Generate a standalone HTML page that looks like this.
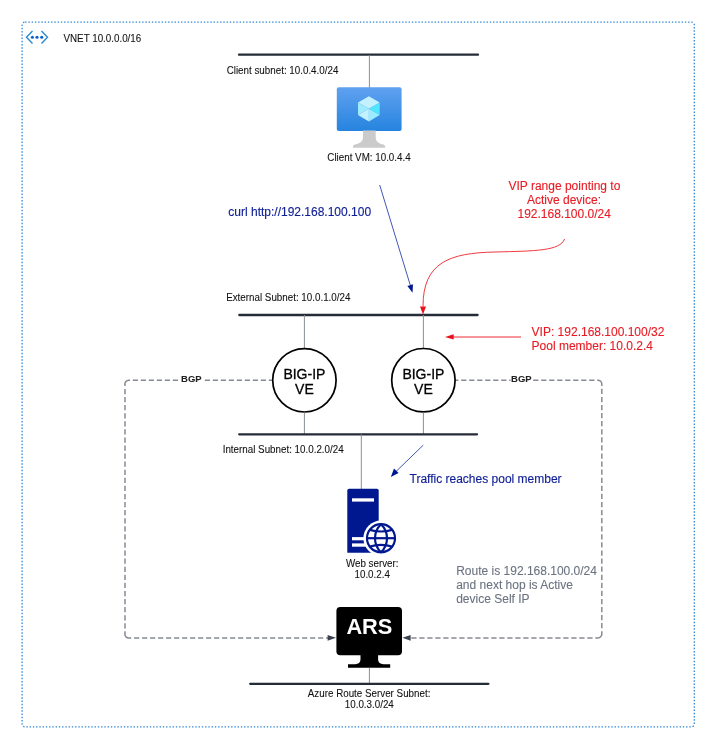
<!DOCTYPE html>
<html><head><meta charset="utf-8">
<style>
html,body{margin:0;padding:0;background:#fff;width:717px;height:750px;overflow:hidden}
svg{display:block;will-change:transform}
text{font-family:"Liberation Sans",sans-serif}
</style></head><body>
<svg width="717" height="750" viewBox="0 0 717 750">
<defs>
<linearGradient id="vmg" x1="0" y1="0" x2="0" y2="1">
<stop offset="0" stop-color="#60a1f0"/><stop offset="1" stop-color="#2684df"/>
</linearGradient>
</defs>
<rect x="0" y="0" width="717" height="750" fill="#fff"/>

<!-- VNET border -->
<rect x="22.1" y="22.1" width="672.2" height="704.8" rx="3" fill="none" stroke="#2f86d8" stroke-width="1.3" stroke-dasharray="1.4 1.85"/>
<!-- VNET icon -->
<g fill="none" stroke="#2a8ccf" stroke-width="1.4">
<path d="M32.5 31 L26.5 37.3 L32.5 43.6"/>
<path d="M41.5 31 L47.5 37.3 L41.5 43.6"/>
</g>
<g fill="#0a60c9">
<circle cx="32.4" cy="37.3" r="1.55"/><circle cx="37" cy="37.3" r="1.55"/><circle cx="41.7" cy="37.3" r="1.55"/>
</g>
<text x="63.5" y="41.8" font-size="10" fill="#111" stroke="#111" stroke-width="0.08" textLength="77.73" lengthAdjust="spacingAndGlyphs">VNET 10.0.0.0/16</text>

<!-- Client subnet -->
<line x1="239" y1="54.7" x2="478" y2="54.7" stroke="#262c37" stroke-width="2.3" stroke-linecap="round"/>
<text x="226.7" y="73.8" font-size="10" fill="#111" stroke="#111" stroke-width="0.08" textLength="111.69" lengthAdjust="spacingAndGlyphs">Client subnet: 10.0.4.0/24</text>
<line x1="369.4" y1="55" x2="369.4" y2="88" stroke="#8a8f96" stroke-width="1"/>

<!-- VM icon -->
<rect x="336.8" y="87.3" width="64.8" height="43.6" rx="2" fill="url(#vmg)"/>
<path d="M363 130.6 H375.7 V137.3 C375.7 142 379 143.6 383.6 144.6 Q385.3 145.1 385.3 147.7 H352.8 Q352.8 145.1 354.6 144.6 C359.2 143.6 363 142 363 137.3 Z" fill="#cbcbcb"/>
<polygon points="368.9,96.3 379.7,102.4 368.9,108.8 358,102.4" fill="#c3f1ff"/>
<polygon points="358,102.4 368.9,108.8 358,115.1" fill="#9cebff"/>
<polygon points="358,115.1 368.9,108.8 368.9,121.6" fill="#c3f1ff"/>
<polygon points="379.7,102.4 368.9,108.8 379.7,115.1" fill="#50e6ff"/>
<polygon points="379.7,115.1 368.9,108.8 368.9,121.6" fill="#9cebff"/>
<text x="369" y="160.7" font-size="10" fill="#111" stroke="#111" stroke-width="0.08" text-anchor="middle" textLength="83.34" lengthAdjust="spacingAndGlyphs">Client VM: 10.0.4.4</text>

<!-- curl text + arrow -->
<text x="228.3" y="216" font-size="12" fill="#0f1f96" stroke="#0f1f96" stroke-width="0.15">curl http://192.168.100.100</text>
<line x1="379.7" y1="185" x2="410.3" y2="285.3" stroke="#4257b5" stroke-width="1"/>
<polygon points="412.5,292.8 407.4,286 413,284.3" fill="#00188f"/>

<!-- VIP range text -->
<g font-size="12" fill="#e81c24" stroke="#e81c24" stroke-width="0.12" text-anchor="middle">
<text x="564.4" y="189.5">VIP range pointing to</text>
<text x="564" y="203.7">Active device:</text>
<text x="564.2" y="218">192.168.100.0/24</text>
</g>
<path d="M564.6 239 C560 251 535 251 495 252 C450 253 423 262 423 306.4" fill="none" stroke="#ee3a40" stroke-width="1"/>
<polygon points="420,306.4 426,306.4 423,314.4" fill="#e8101a"/>

<!-- External subnet -->
<text x="226.2" y="301.3" font-size="10" fill="#111" stroke="#111" stroke-width="0.08" textLength="124.22" lengthAdjust="spacingAndGlyphs">External Subnet: 10.0.1.0/24</text>
<line x1="239.3" y1="315" x2="477.6" y2="315" stroke="#262c37" stroke-width="2.3" stroke-linecap="round"/>
<line x1="304.4" y1="315" x2="304.4" y2="348" stroke="#8a8f96" stroke-width="1"/>
<line x1="423.4" y1="315" x2="423.4" y2="348" stroke="#8a8f96" stroke-width="1"/>

<!-- VIP arrow + text -->
<line x1="453" y1="337" x2="521" y2="337" stroke="#ee2a32" stroke-width="1"/>
<polygon points="445,336.9 453.7,334.2 453.7,339.6" fill="#e8101a"/>
<g font-size="12" fill="#e81c24" stroke="#e81c24" stroke-width="0.12">
<text x="531.6" y="335.6">VIP: 192.168.100.100/32</text>
<text x="531.6" y="350.1">Pool member: 10.0.2.4</text>
</g>

<!-- BGP dashed paths -->
<path fill="none" stroke="#868b93" stroke-width="1.5" d="M129.00 380.20H130.05M132.80 380.20H138.05M140.80 380.20H146.05M148.80 380.20H154.05M156.80 380.20H162.05M164.80 380.20H170.05M172.80 380.20H178.05M180.80 380.20H186.05M188.80 380.20H194.05M196.80 380.20H202.05M204.80 380.20H210.05M212.80 380.20H218.05M220.80 380.20H226.05M228.80 380.20H234.05M236.80 380.20H242.05M244.80 380.20H250.05M252.80 380.20H258.05M260.80 380.20H266.05M268.80 380.20H272.00M125.00 384.20V386.07M125.00 388.90V394.15M125.00 396.98V402.23M125.00 405.06V410.31M125.00 413.14V418.39M125.00 421.22V426.47M125.00 429.30V434.55M125.00 437.38V442.63M125.00 445.46V450.71M125.00 453.54V458.79M125.00 461.62V466.87M125.00 469.70V474.95M125.00 477.78V483.03M125.00 485.86V491.11M125.00 493.94V499.19M125.00 502.02V507.27M125.00 510.10V515.35M125.00 518.18V523.43M125.00 526.26V531.51M125.00 534.34V539.59M125.00 542.42V547.67M125.00 550.50V555.75M125.00 558.58V563.83M125.00 566.66V571.91M125.00 574.74V579.99M125.00 582.82V588.07M125.00 590.90V596.15M125.00 598.98V604.23M125.00 607.06V612.31M125.00 615.14V620.39M125.00 623.22V628.47M125.00 631.30V633.90M129.00 637.90H131.25M134.00 637.90H139.25M142.00 637.90H147.25M150.00 637.90H155.25M158.00 637.90H163.25M166.00 637.90H171.25M174.00 637.90H179.25M182.00 637.90H187.25M190.00 637.90H195.25M198.00 637.90H203.25M206.00 637.90H211.25M214.00 637.90H219.25M222.00 637.90H227.25M230.00 637.90H235.25M238.00 637.90H243.25M246.00 637.90H251.25M254.00 637.90H259.25M262.00 637.90H267.25M270.00 637.90H275.25M278.00 637.90H283.25M286.00 637.90H291.25M294.00 637.90H299.25M302.00 637.90H307.25M310.00 637.90H315.25M318.00 637.90H323.25M326.00 637.90H330.00M455.00 380.20H458.45M461.20 380.20H466.45M469.20 380.20H474.45M477.20 380.20H482.45M485.20 380.20H490.45M493.20 380.20H498.45M501.20 380.20H506.45M509.20 380.20H514.45M517.20 380.20H522.45M525.20 380.20H530.45M533.20 380.20H538.45M541.20 380.20H546.45M549.20 380.20H554.45M557.20 380.20H562.45M565.20 380.20H570.45M573.20 380.20H578.45M581.20 380.20H586.45M589.20 380.20H594.45M597.20 380.20H597.80M601.80 384.20V385.97M601.80 388.80V394.05M601.80 396.88V402.13M601.80 404.96V410.21M601.80 413.04V418.29M601.80 421.12V426.37M601.80 429.20V434.45M601.80 437.28V442.53M601.80 445.36V450.61M601.80 453.44V458.69M601.80 461.52V466.77M601.80 469.60V474.85M601.80 477.68V482.93M601.80 485.76V491.01M601.80 493.84V499.09M601.80 501.92V507.17M601.80 510.00V515.25M601.80 518.08V523.33M601.80 526.16V531.41M601.80 534.24V539.49M601.80 542.32V547.57M601.80 550.40V555.65M601.80 558.48V563.73M601.80 566.56V571.81M601.80 574.64V579.89M601.80 582.72V587.97M601.80 590.80V596.05M601.80 598.88V604.13M601.80 606.96V612.21M601.80 615.04V620.29M601.80 623.12V628.37M601.80 631.20V633.90M411.30 637.90H416.55M419.30 637.90H424.55M427.30 637.90H432.55M435.30 637.90H440.55M443.30 637.90H448.55M451.30 637.90H456.55M459.30 637.90H464.55M467.30 637.90H472.55M475.30 637.90H480.55M483.30 637.90H488.55M491.30 637.90H496.55M499.30 637.90H504.55M507.30 637.90H512.55M515.30 637.90H520.55M523.30 637.90H528.55M531.30 637.90H536.55M539.30 637.90H544.55M547.30 637.90H552.55M555.30 637.90H560.55M563.30 637.90H568.55M571.30 637.90H576.55M579.30 637.90H584.55M587.30 637.90H592.55M595.30 637.90H597.80M125.00 385.20A4.0 4.0 0 0 1 129.50 380.20M125.00 632.90A4.0 4.0 0 0 0 129.50 637.90M597.30 380.20A4.0 4.0 0 0 1 601.80 384.70M597.30 637.90A4.0 4.0 0 0 0 601.80 633.40"/>
<rect x="179.6" y="374" width="24" height="12" fill="#fff"/>
<rect x="510.6" y="374" width="22.4" height="12" fill="#fff"/>
<g font-size="9.9" font-weight="bold" fill="#222" stroke="#222" stroke-width="0.05">
<text x="181.1" y="382.2" textLength="20.6" lengthAdjust="spacingAndGlyphs">BGP</text>
<text x="511.1" y="382.2" textLength="20.6" lengthAdjust="spacingAndGlyphs">BGP</text>
</g>
<polygon points="336,637.8 327.6,634.9 327.6,640.7" fill="#3c4350"/>
<polygon points="402.4,637.8 410.6,634.9 410.6,640.7" fill="#3c4350"/>

<!-- BIG-IP circles -->
<g fill="#fff" stroke="#000" stroke-width="1.7">
<circle cx="304.4" cy="380.3" r="31.7"/>
<circle cx="423.4" cy="380.2" r="31.7"/>
</g>
<g font-size="14.8" fill="#000" stroke="#000" stroke-width="0.3" text-anchor="middle" lengthAdjust="spacingAndGlyphs">
<text x="304.4" y="378.8" textLength="42" lengthAdjust="spacingAndGlyphs">BIG-IP</text>
<text x="304.4" y="394" textLength="18.7" lengthAdjust="spacingAndGlyphs">VE</text>
<text x="423.4" y="378.8" textLength="42" lengthAdjust="spacingAndGlyphs">BIG-IP</text>
<text x="423.4" y="394" textLength="18.7" lengthAdjust="spacingAndGlyphs">VE</text>
</g>
<line x1="304.4" y1="412.5" x2="304.4" y2="434" stroke="#8a8f96" stroke-width="1"/>
<line x1="423.4" y1="412.5" x2="423.4" y2="434" stroke="#8a8f96" stroke-width="1"/>

<!-- Internal subnet -->
<line x1="239.2" y1="434.3" x2="477" y2="434.3" stroke="#262c37" stroke-width="2.3" stroke-linecap="round"/>
<text x="222.7" y="453.2" font-size="10" fill="#111" stroke="#111" stroke-width="0.08" textLength="120.96" lengthAdjust="spacingAndGlyphs">Internal Subnet: 10.0.2.0/24</text>
<line x1="361.3" y1="434.3" x2="361.3" y2="489" stroke="#8a8f96" stroke-width="1"/>

<!-- traffic arrow -->
<line x1="423.3" y1="445.1" x2="396" y2="471.5" stroke="#4257b5" stroke-width="1"/>
<polygon points="390.8,476.9 394,468.4 398.6,473" fill="#00188f"/>
<text x="409.5" y="483" font-size="12" fill="#0f1f96" stroke="#0f1f96" stroke-width="0.15">Traffic reaches pool member</text>

<!-- Web server icon -->
<path d="M347.3 552.8 L347.3 490.6 Q347.3 488.8 349.1 488.8 L376.9 488.8 Q378.7 488.8 378.7 490.6 L378.7 552.8 Z" fill="#00188f"/>
<rect x="352" y="498.3" width="22" height="3.3" fill="#fff"/>
<rect x="352" y="537.1" width="14" height="3.2" fill="#fff"/>
<rect x="352" y="543.4" width="14" height="3.3" fill="#fff"/>
<circle cx="381" cy="538.2" r="17.6" fill="#fff"/>
<g fill="none" stroke="#00188f" stroke-width="2.2">
<circle cx="381" cy="538.2" r="14"/>
<path d="M381 524.2 A19.3 19.3 0 0 0 381 552.2 A19.3 19.3 0 0 0 381 524.2 Z"/>
<line x1="367" y1="538.2" x2="395" y2="538.2"/>
<path d="M369.2 529.6 Q381 533.4 392.8 529.6"/>
<path d="M369.2 546.8 Q381 543 392.8 546.8"/>
</g>
<g font-size="10" fill="#111" stroke="#111" stroke-width="0.08" text-anchor="middle">
<text x="372.2" y="567.0" textLength="52.65" lengthAdjust="spacingAndGlyphs">Web server:</text>
<text x="372.2" y="578.3" textLength="35.42" lengthAdjust="spacingAndGlyphs">10.0.2.4</text>
</g>

<!-- Route text -->
<g font-size="12" fill="#6b7380" stroke="#6b7380" stroke-width="0.1">
<text x="456.2" y="574.5">Route is 192.168.100.0/24</text>
<text x="456.2" y="588.7">and next hop is Active</text>
<text x="456.2" y="602.9">device Self IP</text>
</g>

<!-- ARS -->
<rect x="336.4" y="607" width="65.6" height="48.3" rx="4" fill="#000"/>
<path d="M360.5 654 H378.1 V659.6 Q378.3 664.1 383.5 664.2 H390.2 V667.7 H348 V664.2 H355.1 Q360.3 664.1 360.5 659.6 Z" fill="#000"/>
<text x="369.4" y="633.8" font-size="21.8" font-weight="bold" fill="#fff" text-anchor="middle">ARS</text>
<line x1="369.4" y1="667.8" x2="369.4" y2="683.8" stroke="#8a8f96" stroke-width="1"/>
<line x1="250.2" y1="683.8" x2="488.4" y2="683.8" stroke="#262c37" stroke-width="2.3" stroke-linecap="round"/>
<g font-size="10" fill="#111" stroke="#111" stroke-width="0.08" text-anchor="middle">
<text x="369.1" y="697.0" textLength="122.57" lengthAdjust="spacingAndGlyphs">Azure Route Server Subnet:</text>
<text x="369.3" y="708.3" textLength="49.04" lengthAdjust="spacingAndGlyphs">10.0.3.0/24</text>
</g>
</svg>
</body></html>
